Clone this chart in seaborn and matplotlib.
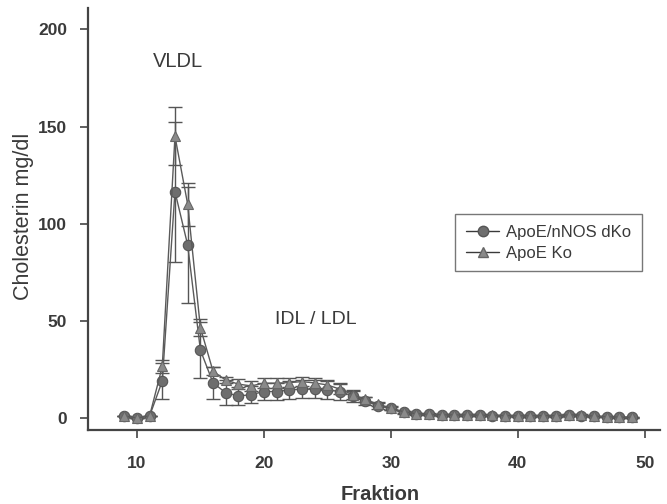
import numpy as np
import pandas as pd
import matplotlib
matplotlib.use("Agg")
import matplotlib.pyplot as plt
import seaborn as sns

# Fraction numbers (FPLC)
fraction = list(range(9, 50))

# ApoE/nNOS dKo (circles)
dko_mean = [1, 0, 1, 19, 116.5, 89, 35, 18, 13, 11.3, 12, 13.6, 13.6, 14.4, 14.8, 14.8,
            14.4, 13.6, 11.3, 8.8, 6.2, 5, 3, 2, 1.8, 1.6, 1.5, 1.5, 1.4, 1.2, 1.2, 1.1,
            1.1, 1.2, 1.0, 1.4, 1.2, 0.8, 0.6, 0.4, 0.3]
dko_err = [0, 0, 0, 9.5, 36, 30, 14.5, 8, 6.3, 4.6, 4.3, 4.5, 4.5, 4.5, 4.5, 4.5,
           4.5, 4.2, 3, 2, 1.5, 1, 0.8, 0.5, 0.5, 0.4, 0.4, 0.4, 0.4, 0.4, 0.4, 0.4,
           0.4, 0.4, 0.4, 0.5, 0.4, 0.3, 0.3, 0.3, 0.3]

# ApoE Ko (triangles)
ko_mean = [1, 0, 1, 26.5, 145, 110, 46.5, 24, 19.5, 17.4, 16.5, 17.9, 17.9, 18.2, 18.7, 18,
           17, 14.8, 12, 9.5, 7, 5, 3.2, 2.2, 1.8, 1.6, 1.5, 1.5, 1.4, 1.3, 1.2, 1.1,
           1.1, 1.2, 1.1, 1.6, 1.4, 0.9, 0.6, 0.4, 0.3]
ko_err = [0, 0, 0, 3.5, 15, 11, 4.5, 2, 1.5, 2.5, 2.5, 2.5, 2.5, 2.5, 2.5, 2.5,
          2.5, 2.5, 2, 1.5, 1, 0.8, 0.5, 0.4, 0.4, 0.4, 0.4, 0.4, 0.4, 0.4, 0.4, 0.4,
          0.4, 0.4, 0.4, 0.5, 0.4, 0.3, 0.3, 0.3, 0.3]

series_names = ["ApoE/nNOS dKo", "ApoE Ko"]

df = pd.concat([
    pd.DataFrame({"Fraktion": fraction, "Chol": dko_mean, "err": dko_err, "group": series_names[0]}),
    pd.DataFrame({"Fraktion": fraction, "Chol": ko_mean, "err": ko_err, "group": series_names[1]}),
])

sns.set_style("ticks")
plt.rcParams['font.family'] = ['Liberation Sans', 'DejaVu Sans']

text_col = "#3a3a3a"
fig = plt.figure(figsize=(6.67, 5.04), dpi=100)
ax = fig.add_axes([88 / 667, 74 / 504, 572 / 667, 422 / 504])

styles = {
    series_names[0]: dict(marker="o", mfc="#6e6e6e", mec="#555555"),
    series_names[1]: dict(marker="^", mfc="#8a8a8a", mec="#666666"),
}

# error bars first, underneath the markers
for name, sub in df.groupby("group", sort=False):
    ax.errorbar(sub["Fraktion"], sub["Chol"], yerr=sub["err"], fmt="none",
                ecolor="#555555", elinewidth=1.0, capsize=5, capthick=1.0, zorder=2)

sns.lineplot(data=df, x="Fraktion", y="Chol", hue="group", style="group",
             markers={series_names[0]: "o", series_names[1]: "^"}, dashes=False,
             palette={series_names[0]: "#5a5a5a", series_names[1]: "#5a5a5a"},
             linewidth=1.0, markersize=7.5, ax=ax, legend=False, zorder=3)

# restyle markers to match greys
for line, name in zip(ax.lines[-2:], series_names):
    line.set_markerfacecolor(styles[name]["mfc"])
    line.set_markeredgecolor(styles[name]["mec"])
    line.set_markeredgewidth(0.8)

# legend
handles = [plt.Line2D([], [], color="#3a3a3a", lw=1.0, marker=styles[n]["marker"],
                      mfc=styles[n]["mfc"], mec=styles[n]["mec"], ms=7.5) for n in series_names]
leg = ax.legend(handles, series_names, loc="upper left", bbox_to_anchor=(0.642, 0.512),
                frameon=True, fancybox=False, fontsize=12, handlelength=2.0,
                borderpad=0.65, labelspacing=0.35, handletextpad=0.4, borderaxespad=0)
leg.get_frame().set_edgecolor("#555555")
leg.get_frame().set_linewidth(1.0)
for t in leg.get_texts():
    t.set_color(text_col)

ax.set_xlim(6.15, 51.2)
ax.set_ylim(-6.2, 211)
ax.set_xticks([10, 20, 30, 40, 50])
ax.set_yticks([0, 50, 100, 150, 200])
ax.tick_params(axis="both", direction="out", length=6, width=1.2, colors="#444444",
               labelsize=12.5, labelcolor=text_col)
ax.tick_params(axis="x", pad=13)
ax.tick_params(axis="y", pad=9)
for lab in ax.get_xticklabels() + ax.get_yticklabels():
    lab.set_fontweight("bold")

sns.despine(ax=ax)
for sp in ["left", "bottom"]:
    ax.spines[sp].set_linewidth(1.6)
    ax.spines[sp].set_color("#444444")

ax.set_xlabel("")
ax.set_ylabel("")
fig.text(380 / 667, 1 - 494 / 504, "Fraktion", ha="center", va="center",
         fontsize=14.5, fontweight="bold", color=text_col)
fig.text(24 / 667, 1 - 216 / 504, "Cholesterin mg/dl", ha="center", va="center",
         rotation=90, fontsize=15.5, color=text_col)

ax.text(13.25, 183.5, "VLDL", ha="center", va="center", fontsize=14.5, color=text_col)
ax.text(24.1, 50.5, "IDL / LDL", ha="center", va="center", fontsize=14, color=text_col)

fig.savefig("out.png", dpi=100)
